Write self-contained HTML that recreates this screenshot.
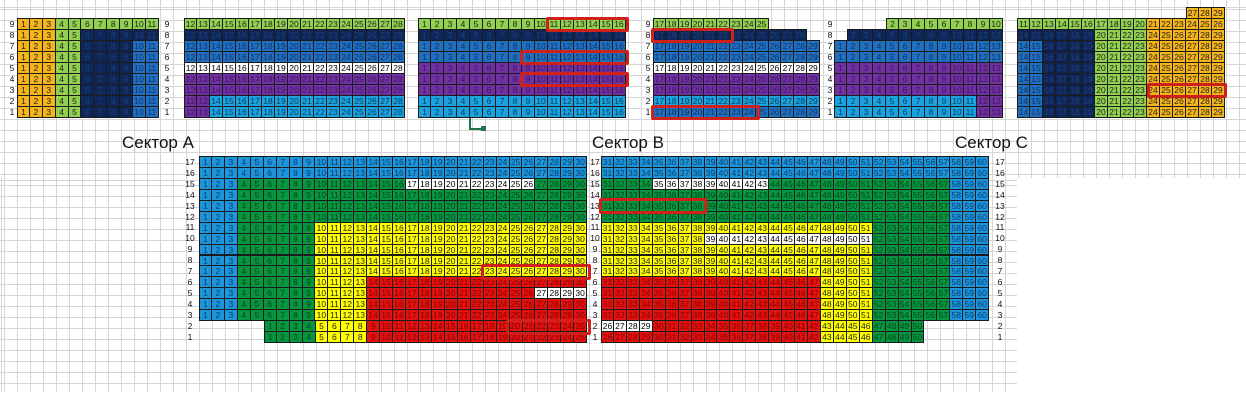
<!DOCTYPE html>
<html><head><meta charset="utf-8"><style>
*{margin:0;padding:0;box-sizing:border-box}
body{width:1246px;height:403px;position:relative;background:#fff;overflow:hidden;font-family:"Liberation Sans",sans-serif}
.grid{position:absolute;background-image:repeating-linear-gradient(90deg,#d6d6d6 0 1px,transparent 1px 13px),repeating-linear-gradient(0deg,#d6d6d6 0 1px,transparent 1px 11px)}
.r{position:absolute;display:flex;height:11px}
.r span{display:flex}
.r i{font-style:normal;width:13px;height:11px;font-size:8.5px;line-height:11px;text-align:center;border-right:1px solid #1a1a1a;border-bottom:1px solid #1a1a1a;border-top:1px solid #1a1a1a;margin-top:-1px;height:12px}
.bt i{width:12.95px;height:11.94px;line-height:11px}
.b1 i{width:12.9px}
.w4 i{width:12.85px}
.r span:first-child i:first-child{border-left:1px solid #1a1a1a}
.o i{background:#f4b41a;color:#222}
.g i{background:#92d050;color:#222}
.n i{background:#0e2758;color:#1d3f7a}
.m i{background:#2170c0;color:#0d3468}
.w i{background:#fff;color:#000}
.p i{background:#7030a0;color:#3f1566}
.l i{background:#1aa3e0;color:#063a5a}
.b i{background:#1c95dc;color:#0a3d6a}
.G i{background:#079640;color:#04451e}
.y i{background:#ffff00;color:#222}
.rd i{background:#e2120f;color:#8a0000}
.e i{background:transparent;border-color:transparent;border-left-color:transparent!important}
.lab{position:absolute;font-size:8.5px;width:14px;text-align:center;line-height:11px;color:#111}
.box{position:absolute;border:3px solid #d0201a;border-radius:2px}
.t{position:absolute;font-size:17px;color:#111}
</style></head><body>
<div class="grid" style="left:0;top:0;width:1246px;height:178px;background-position:4px 8px"></div>
<div class="grid" style="left:0;top:178px;width:1017px;height:214px;background-position:4px 3px"></div>

<!-- TOP BLOCK 1 -->
<div class="lab" style="left:5px;top:19px">9</div><div class="lab" style="left:5px;top:30px">8</div><div class="lab" style="left:5px;top:41px">7</div><div class="lab" style="left:5px;top:52px">6</div><div class="lab" style="left:5px;top:63px">5</div><div class="lab" style="left:5px;top:74px">4</div><div class="lab" style="left:5px;top:85px">3</div><div class="lab" style="left:5px;top:96px">2</div><div class="lab" style="left:5px;top:107px">1</div>
<div class="r b1" style="left:17px;top:19px"><span class="o"><i>1</i><i>2</i><i>3</i></span><span class="g"><i>4</i><i>5</i><i>6</i><i>7</i><i>8</i><i>9</i><i>10</i><i>11</i></span></div>
<div class="r b1" style="left:17px;top:30px"><span class="o"><i>1</i><i>2</i><i>3</i></span><span class="g"><i>4</i><i>5</i></span><span class="n"><i>6</i><i>7</i><i>8</i><i>9</i><i>10</i><i>11</i></span></div>
<div class="r b1" style="left:17px;top:41px"><span class="o"><i>1</i><i>2</i><i>3</i></span><span class="g"><i>4</i><i>5</i></span><span class="n"><i>6</i><i>7</i><i>8</i><i>9</i></span><span class="m"><i>10</i><i>11</i></span></div>
<div class="r b1" style="left:17px;top:52px"><span class="o"><i>1</i><i>2</i><i>3</i></span><span class="g"><i>4</i><i>5</i></span><span class="n"><i>6</i><i>7</i><i>8</i><i>9</i></span><span class="m"><i>10</i><i>11</i></span></div>
<div class="r b1" style="left:17px;top:63px"><span class="o"><i>1</i><i>2</i><i>3</i></span><span class="g"><i>4</i><i>5</i></span><span class="n"><i>6</i><i>7</i><i>8</i><i>9</i></span><span class="m"><i>10</i><i>11</i></span></div>
<div class="r b1" style="left:17px;top:74px"><span class="o"><i>1</i><i>2</i><i>3</i></span><span class="g"><i>4</i><i>5</i></span><span class="n"><i>6</i><i>7</i><i>8</i><i>9</i></span><span class="m"><i>10</i><i>11</i></span></div>
<div class="r b1" style="left:17px;top:85px"><span class="o"><i>1</i><i>2</i><i>3</i></span><span class="g"><i>4</i><i>5</i></span><span class="n"><i>6</i><i>7</i><i>8</i><i>9</i></span><span class="m"><i>10</i><i>11</i></span></div>
<div class="r b1" style="left:17px;top:96px"><span class="o"><i>1</i><i>2</i><i>3</i></span><span class="g"><i>4</i><i>5</i></span><span class="n"><i>6</i><i>7</i><i>8</i><i>9</i></span><span class="m"><i>10</i><i>11</i></span></div>
<div class="r b1" style="left:17px;top:107px"><span class="o"><i>1</i><i>2</i><i>3</i></span><span class="g"><i>4</i><i>5</i></span><span class="n"><i>6</i><i>7</i><i>8</i><i>9</i></span><span class="m"><i>10</i><i>11</i></span></div>

<!-- labels between 1 and 2 -->
<div class="lab" style="left:160px;top:19px">9</div><div class="lab" style="left:160px;top:30px">8</div><div class="lab" style="left:160px;top:41px">7</div><div class="lab" style="left:160px;top:52px">6</div><div class="lab" style="left:160px;top:63px">5</div><div class="lab" style="left:160px;top:74px">4</div><div class="lab" style="left:160px;top:85px">3</div><div class="lab" style="left:160px;top:96px">2</div><div class="lab" style="left:160px;top:107px">1</div>

<!-- TOP BLOCK 2 -->
<div class="r" style="left:184px;top:19px"><span class="g"><i>12</i><i>13</i><i>14</i><i>15</i><i>16</i><i>17</i><i>18</i><i>19</i><i>20</i><i>21</i><i>22</i><i>23</i><i>24</i><i>25</i><i>26</i><i>27</i><i>28</i></span></div>
<div class="r" style="left:184px;top:30px"><span class="n"><i>12</i><i>13</i><i>14</i><i>15</i><i>16</i><i>17</i><i>18</i><i>19</i><i>20</i><i>21</i><i>22</i><i>23</i><i>24</i><i>25</i><i>26</i><i>27</i><i>28</i></span></div>
<div class="r" style="left:184px;top:41px"><span class="m"><i>12</i><i>13</i><i>14</i><i>15</i><i>16</i><i>17</i><i>18</i><i>19</i><i>20</i><i>21</i><i>22</i><i>23</i><i>24</i><i>25</i><i>26</i><i>27</i><i>28</i></span></div>
<div class="r" style="left:184px;top:52px"><span class="m"><i>12</i><i>13</i><i>14</i><i>15</i><i>16</i><i>17</i><i>18</i><i>19</i><i>20</i><i>21</i><i>22</i><i>23</i><i>24</i><i>25</i><i>26</i><i>27</i><i>28</i></span></div>
<div class="r" style="left:184px;top:63px"><span class="w"><i>12</i><i>13</i><i>14</i><i>15</i><i>16</i><i>17</i><i>18</i><i>19</i><i>20</i><i>21</i><i>22</i><i>23</i><i>24</i><i>25</i><i>26</i><i>27</i><i>28</i></span></div>
<div class="r" style="left:184px;top:74px"><span class="p"><i>12</i><i>13</i><i>14</i><i>15</i><i>16</i><i>17</i><i>18</i><i>19</i><i>20</i><i>21</i><i>22</i><i>23</i><i>24</i><i>25</i><i>26</i><i>27</i><i>28</i></span></div>
<div class="r" style="left:184px;top:85px"><span class="p"><i>12</i><i>13</i><i>14</i><i>15</i><i>16</i><i>17</i><i>18</i><i>19</i><i>20</i><i>21</i><i>22</i><i>23</i><i>24</i><i>25</i><i>26</i><i>27</i><i>28</i></span></div>
<div class="r" style="left:184px;top:96px"><span class="p"><i>12</i><i>13</i></span><span class="l"><i>14</i><i>15</i><i>16</i><i>17</i><i>18</i><i>19</i><i>20</i><i>21</i><i>22</i><i>23</i><i>24</i><i>25</i><i>26</i><i>27</i><i>28</i></span></div>
<div class="r" style="left:184px;top:107px"><span class="p"><i>12</i><i>13</i></span><span class="l"><i>14</i><i>15</i><i>16</i><i>17</i><i>18</i><i>19</i><i>20</i><i>21</i><i>22</i><i>23</i><i>24</i><i>25</i><i>26</i><i>27</i><i>28</i></span></div>

<!-- TOP BLOCK 3 -->
<div class="r" style="left:418px;top:19px"><span class="g"><i>1</i><i>2</i><i>3</i><i>4</i><i>5</i><i>6</i><i>7</i><i>8</i><i>9</i><i>10</i><i>11</i><i>12</i><i>13</i><i>14</i><i>15</i><i>16</i></span></div>
<div class="r" style="left:418px;top:30px"><span class="n"><i>1</i><i>2</i><i>3</i><i>4</i><i>5</i><i>6</i><i>7</i><i>8</i><i>9</i><i>10</i><i>11</i><i>12</i><i>13</i><i>14</i><i>15</i><i>16</i></span></div>
<div class="r" style="left:418px;top:41px"><span class="m"><i>1</i><i>2</i><i>3</i><i>4</i><i>5</i><i>6</i><i>7</i><i>8</i><i>9</i><i>10</i><i>11</i><i>12</i><i>13</i><i>14</i><i>15</i><i>16</i></span></div>
<div class="r" style="left:418px;top:52px"><span class="m"><i>1</i><i>2</i><i>3</i><i>4</i><i>5</i><i>6</i><i>7</i><i>8</i><i>9</i><i>10</i><i>11</i><i>12</i><i>13</i><i>14</i><i>15</i><i>16</i></span></div>
<div class="r" style="left:418px;top:63px"><span class="p"><i>1</i><i>2</i><i>3</i><i>4</i><i>5</i><i>6</i><i>7</i><i>8</i><i>9</i><i>10</i><i>11</i><i>12</i><i>13</i><i>14</i><i>15</i><i>16</i></span></div>
<div class="r" style="left:418px;top:74px"><span class="p"><i>1</i><i>2</i><i>3</i><i>4</i><i>5</i><i>6</i><i>7</i><i>8</i><i>9</i><i>10</i><i>11</i><i>12</i><i>13</i><i>14</i><i>15</i><i>16</i></span></div>
<div class="r" style="left:418px;top:85px"><span class="p"><i>1</i><i>2</i><i>3</i><i>4</i><i>5</i><i>6</i><i>7</i><i>8</i><i>9</i><i>10</i><i>11</i><i>12</i><i>13</i><i>14</i><i>15</i><i>16</i></span></div>
<div class="r" style="left:418px;top:96px"><span class="l"><i>1</i><i>2</i><i>3</i><i>4</i><i>5</i><i>6</i><i>7</i><i>8</i><i>9</i><i>10</i><i>11</i><i>12</i><i>13</i><i>14</i><i>15</i><i>16</i></span></div>
<div class="r" style="left:418px;top:107px"><span class="l"><i>1</i><i>2</i><i>3</i><i>4</i><i>5</i><i>6</i><i>7</i><i>8</i><i>9</i><i>10</i><i>11</i><i>12</i><i>13</i><i>14</i><i>15</i><i>16</i></span></div>

<!-- selection marker -->
<div style="position:absolute;left:469px;top:118px;width:15px;height:12px;border-left:2px solid #217346;border-bottom:2px solid #217346"></div>
<div style="position:absolute;left:481px;top:126px;width:5px;height:5px;background:#217346"></div>

<!-- labels block 4 -->
<div class="lab" style="left:641px;top:19px">9</div><div class="lab" style="left:641px;top:30px">8</div><div class="lab" style="left:641px;top:41px">7</div><div class="lab" style="left:641px;top:52px">6</div><div class="lab" style="left:641px;top:63px">5</div><div class="lab" style="left:641px;top:74px">4</div><div class="lab" style="left:641px;top:85px">3</div><div class="lab" style="left:641px;top:96px">2</div><div class="lab" style="left:641px;top:107px">1</div>

<!-- TOP BLOCK 4 -->
<div class="r w4" style="left:653px;top:19px"><span class="g"><i>17</i><i>18</i><i>19</i><i>20</i><i>21</i><i>22</i><i>23</i><i>24</i><i>25</i></span></div>
<div class="r w4" style="left:653px;top:30px"><span class="n"><i>17</i><i>18</i><i>19</i><i>20</i><i>21</i><i>22</i><i>23</i><i>24</i><i>25</i><i>26</i><i>27</i><i>28</i></span></div>
<div class="r w4" style="left:653px;top:41px"><span class="m"><i>17</i><i>18</i><i>19</i><i>20</i><i>21</i><i>22</i><i>23</i><i>24</i><i>25</i><i>26</i><i>27</i><i>28</i><i>29</i></span></div>
<div class="r w4" style="left:653px;top:52px"><span class="m"><i>17</i><i>18</i><i>19</i><i>20</i><i>21</i><i>22</i><i>23</i><i>24</i><i>25</i><i>26</i><i>27</i><i>28</i><i>29</i></span></div>
<div class="r w4" style="left:653px;top:63px"><span class="w"><i>17</i><i>18</i><i>19</i><i>20</i><i>21</i><i>22</i><i>23</i><i>24</i><i>25</i><i>26</i><i>27</i><i>28</i><i>29</i></span></div>
<div class="r w4" style="left:653px;top:74px"><span class="p"><i>17</i><i>18</i><i>19</i><i>20</i><i>21</i><i>22</i><i>23</i><i>24</i><i>25</i><i>26</i><i>27</i><i>28</i><i>29</i></span></div>
<div class="r w4" style="left:653px;top:85px"><span class="p"><i>17</i><i>18</i><i>19</i><i>20</i><i>21</i><i>22</i><i>23</i><i>24</i><i>25</i><i>26</i><i>27</i><i>28</i><i>29</i></span></div>
<div class="r w4" style="left:653px;top:96px"><span class="l"><i>17</i><i>18</i><i>19</i><i>20</i><i>21</i><i>22</i><i>23</i><i>24</i><i>25</i><i>26</i><i>27</i><i>28</i><i>29</i></span></div>
<div class="r w4" style="left:653px;top:107px"><span class="m"><i>17</i><i>18</i><i>19</i><i>20</i><i>21</i><i>22</i><i>23</i><i>24</i><i>25</i><i>26</i><i>27</i><i>28</i><i>29</i></span></div>

<!-- labels block 5 -->
<div class="lab" style="left:823px;top:19px">9</div><div class="lab" style="left:823px;top:30px">8</div><div class="lab" style="left:823px;top:41px">7</div><div class="lab" style="left:823px;top:52px">6</div><div class="lab" style="left:823px;top:63px">5</div><div class="lab" style="left:823px;top:74px">4</div><div class="lab" style="left:823px;top:85px">3</div><div class="lab" style="left:823px;top:96px">2</div><div class="lab" style="left:823px;top:107px">1</div>

<!-- TOP BLOCK 5 -->
<div class="r" style="left:886px;top:19px"><span class="g"><i>2</i><i>3</i><i>4</i><i>5</i><i>6</i><i>7</i><i>8</i><i>9</i><i>10</i></span></div>
<div class="r" style="left:847px;top:30px"><span class="n"><i>2</i><i>3</i><i>4</i><i>5</i><i>6</i><i>7</i><i>8</i><i>9</i><i>10</i><i>11</i><i>12</i><i>13</i></span></div>
<div class="r" style="left:834px;top:41px"><span class="m"><i>1</i><i>2</i><i>3</i><i>4</i><i>5</i><i>6</i><i>7</i><i>8</i><i>9</i><i>10</i><i>11</i><i>12</i><i>13</i></span></div>
<div class="r" style="left:834px;top:52px"><span class="m"><i>1</i><i>2</i><i>3</i><i>4</i><i>5</i><i>6</i><i>7</i><i>8</i><i>9</i><i>10</i><i>11</i><i>12</i><i>13</i></span></div>
<div class="r" style="left:834px;top:63px"><span class="p"><i>1</i><i>2</i><i>3</i><i>4</i><i>5</i><i>6</i><i>7</i><i>8</i><i>9</i><i>10</i><i>11</i><i>12</i><i>13</i></span></div>
<div class="r" style="left:834px;top:74px"><span class="p"><i>1</i><i>2</i><i>3</i><i>4</i><i>5</i><i>6</i><i>7</i><i>8</i><i>9</i><i>10</i><i>11</i><i>12</i><i>13</i></span></div>
<div class="r" style="left:834px;top:85px"><span class="p"><i>1</i><i>2</i><i>3</i><i>4</i><i>5</i><i>6</i><i>7</i><i>8</i><i>9</i><i>10</i><i>11</i><i>12</i><i>13</i></span></div>
<div class="r" style="left:834px;top:96px"><span class="l"><i>1</i><i>2</i><i>3</i><i>4</i><i>5</i><i>6</i><i>7</i><i>8</i><i>9</i><i>10</i><i>11</i></span><span class="p"><i>12</i><i>13</i></span></div>
<div class="r" style="left:834px;top:107px"><span class="l"><i>1</i><i>2</i><i>3</i><i>4</i><i>5</i><i>6</i><i>7</i><i>8</i><i>9</i><i>10</i><i>11</i></span><span class="p"><i>12</i><i>13</i></span></div>

<!-- TOP BLOCK 6 -->
<div class="r" style="left:1186px;top:8px"><span class="o"><i>27</i><i>28</i><i>29</i></span></div>
<div class="r" style="left:1017px;top:19px"><span class="g"><i>11</i><i>12</i><i>13</i><i>14</i><i>15</i><i>16</i><i>17</i><i>18</i><i>19</i><i>20</i></span><span class="o"><i>21</i><i>22</i><i>23</i><i>24</i><i>25</i><i>26</i></span></div>
<div class="r" style="left:1017px;top:30px"><span class="n"><i>14</i><i>15</i><i>16</i><i>17</i><i>18</i><i>19</i></span><span class="g"><i>20</i><i>21</i><i>22</i><i>23</i></span><span class="o"><i>24</i><i>25</i><i>26</i><i>27</i><i>28</i><i>29</i></span></div>
<div class="r" style="left:1017px;top:41px"><span class="m"><i>14</i><i>15</i></span><span class="n"><i>16</i><i>17</i><i>18</i><i>19</i></span><span class="g"><i>20</i><i>21</i><i>22</i><i>23</i></span><span class="o"><i>24</i><i>25</i><i>26</i><i>27</i><i>28</i><i>29</i></span></div>
<div class="r" style="left:1017px;top:52px"><span class="m"><i>14</i><i>15</i></span><span class="n"><i>16</i><i>17</i><i>18</i><i>19</i></span><span class="g"><i>20</i><i>21</i><i>22</i><i>23</i></span><span class="o"><i>24</i><i>25</i><i>26</i><i>27</i><i>28</i><i>29</i></span></div>
<div class="r" style="left:1017px;top:63px"><span class="m"><i>14</i><i>15</i></span><span class="n"><i>16</i><i>17</i><i>18</i><i>19</i></span><span class="g"><i>20</i><i>21</i><i>22</i><i>23</i></span><span class="o"><i>24</i><i>25</i><i>26</i><i>27</i><i>28</i><i>29</i></span></div>
<div class="r" style="left:1017px;top:74px"><span class="m"><i>14</i><i>15</i></span><span class="n"><i>16</i><i>17</i><i>18</i><i>19</i></span><span class="g"><i>20</i><i>21</i><i>22</i><i>23</i></span><span class="o"><i>24</i><i>25</i><i>26</i><i>27</i><i>28</i><i>29</i></span></div>
<div class="r" style="left:1017px;top:85px"><span class="m"><i>14</i><i>15</i></span><span class="n"><i>16</i><i>17</i><i>18</i><i>19</i></span><span class="g"><i>20</i><i>21</i><i>22</i><i>23</i></span><span class="o"><i>24</i><i>25</i><i>26</i><i>27</i><i>28</i><i>29</i></span></div>
<div class="r" style="left:1017px;top:96px"><span class="m"><i>14</i><i>15</i></span><span class="n"><i>16</i><i>17</i><i>18</i><i>19</i></span><span class="g"><i>20</i><i>21</i><i>22</i><i>23</i></span><span class="o"><i>24</i><i>25</i><i>26</i><i>27</i><i>28</i><i>29</i></span></div>
<div class="r" style="left:1017px;top:107px"><span class="m"><i>14</i><i>15</i></span><span class="n"><i>16</i><i>17</i><i>18</i><i>19</i></span><span class="g"><i>20</i><i>21</i><i>22</i><i>23</i></span><span class="o"><i>24</i><i>25</i><i>26</i><i>27</i><i>28</i><i>29</i></span></div>

<!-- titles -->
<div class="t" style="left:122px;top:133px">Сектор А</div>
<div class="t" style="left:592px;top:133px">Сектор В</div>
<div class="t" style="left:955px;top:133px">Сектор С</div>

<!-- BOTTOM labels -->
<div class="lab" style="left:183px;top:157px">17</div><div class="lab" style="left:183px;top:168px">16</div><div class="lab" style="left:183px;top:179px">15</div><div class="lab" style="left:183px;top:190px">14</div><div class="lab" style="left:183px;top:201px">13</div><div class="lab" style="left:183px;top:212px">12</div><div class="lab" style="left:183px;top:222px">11</div><div class="lab" style="left:183px;top:233px">10</div><div class="lab" style="left:183px;top:244px">9</div><div class="lab" style="left:183px;top:255px">8</div><div class="lab" style="left:183px;top:266px">7</div><div class="lab" style="left:183px;top:277px">6</div><div class="lab" style="left:183px;top:288px">5</div><div class="lab" style="left:183px;top:299px">4</div><div class="lab" style="left:183px;top:310px">3</div><div class="lab" style="left:183px;top:321px">2</div><div class="lab" style="left:183px;top:332px">1</div>
<div class="lab" style="left:588px;top:157px">17</div><div class="lab" style="left:588px;top:168px">16</div><div class="lab" style="left:588px;top:179px">15</div><div class="lab" style="left:588px;top:190px">14</div><div class="lab" style="left:588px;top:201px">13</div><div class="lab" style="left:588px;top:212px">12</div><div class="lab" style="left:588px;top:222px">11</div><div class="lab" style="left:588px;top:233px">10</div><div class="lab" style="left:588px;top:244px">9</div><div class="lab" style="left:588px;top:255px">8</div><div class="lab" style="left:588px;top:266px">7</div><div class="lab" style="left:588px;top:277px">6</div><div class="lab" style="left:588px;top:288px">5</div><div class="lab" style="left:588px;top:299px">4</div><div class="lab" style="left:588px;top:310px">3</div><div class="lab" style="left:588px;top:321px">2</div><div class="lab" style="left:588px;top:332px">1</div>
<div class="lab" style="left:993px;top:157px">17</div><div class="lab" style="left:993px;top:168px">16</div><div class="lab" style="left:993px;top:179px">15</div><div class="lab" style="left:993px;top:190px">14</div><div class="lab" style="left:993px;top:201px">13</div><div class="lab" style="left:993px;top:212px">12</div><div class="lab" style="left:993px;top:222px">11</div><div class="lab" style="left:993px;top:233px">10</div><div class="lab" style="left:993px;top:244px">9</div><div class="lab" style="left:993px;top:255px">8</div><div class="lab" style="left:993px;top:266px">7</div><div class="lab" style="left:993px;top:277px">6</div><div class="lab" style="left:993px;top:288px">5</div><div class="lab" style="left:993px;top:299px">4</div><div class="lab" style="left:993px;top:310px">3</div><div class="lab" style="left:993px;top:321px">2</div><div class="lab" style="left:993px;top:332px">1</div>

<!-- SECTION A -->
<div class="r bt" style="left:199px;top:157px"><span class="b"><i>1</i><i>2</i><i>3</i><i>4</i><i>5</i><i>6</i><i>7</i><i>8</i><i>9</i><i>10</i><i>11</i><i>12</i><i>13</i><i>14</i><i>15</i><i>16</i><i>17</i><i>18</i><i>19</i><i>20</i><i>21</i><i>22</i><i>23</i><i>24</i><i>25</i><i>26</i><i>27</i><i>28</i><i>29</i><i>30</i></span></div>
<div class="r bt" style="left:199px;top:167.9px"><span class="b"><i>1</i><i>2</i><i>3</i><i>4</i><i>5</i><i>6</i><i>7</i><i>8</i><i>9</i><i>10</i><i>11</i><i>12</i><i>13</i><i>14</i><i>15</i><i>16</i><i>17</i><i>18</i><i>19</i><i>20</i><i>21</i><i>22</i><i>23</i><i>24</i><i>25</i><i>26</i><i>27</i><i>28</i><i>29</i><i>30</i></span></div>
<div class="r bt" style="left:199px;top:178.9px"><span class="b"><i>1</i><i>2</i><i>3</i></span><span class="G"><i>4</i><i>5</i><i>6</i><i>7</i><i>8</i><i>9</i><i>10</i><i>11</i><i>12</i><i>13</i><i>14</i><i>15</i><i>16</i></span><span class="w"><i>17</i><i>18</i><i>19</i><i>20</i><i>21</i><i>22</i><i>23</i><i>24</i><i>25</i><i>26</i></span><span class="G"><i>27</i><i>28</i><i>29</i><i>30</i></span></div>
<div class="r bt" style="left:199px;top:189.8px"><span class="b"><i>1</i><i>2</i><i>3</i></span><span class="G"><i>4</i><i>5</i><i>6</i><i>7</i><i>8</i><i>9</i><i>10</i><i>11</i><i>12</i><i>13</i><i>14</i><i>15</i><i>16</i><i>17</i><i>18</i><i>19</i><i>20</i><i>21</i><i>22</i><i>23</i><i>24</i><i>25</i><i>26</i><i>27</i><i>28</i><i>29</i><i>30</i></span></div>
<div class="r bt" style="left:199px;top:200.8px"><span class="b"><i>1</i><i>2</i><i>3</i></span><span class="G"><i>4</i><i>5</i><i>6</i><i>7</i><i>8</i><i>9</i><i>10</i><i>11</i><i>12</i><i>13</i><i>14</i><i>15</i><i>16</i><i>17</i><i>18</i><i>19</i><i>20</i><i>21</i><i>22</i><i>23</i><i>24</i><i>25</i><i>26</i><i>27</i><i>28</i><i>29</i><i>30</i></span></div>
<div class="r bt" style="left:199px;top:211.7px"><span class="b"><i>1</i><i>2</i><i>3</i></span><span class="G"><i>4</i><i>5</i><i>6</i><i>7</i><i>8</i><i>9</i><i>10</i><i>11</i><i>12</i><i>13</i><i>14</i><i>15</i><i>16</i><i>17</i><i>18</i><i>19</i><i>20</i><i>21</i><i>22</i><i>23</i><i>24</i><i>25</i><i>26</i><i>27</i><i>28</i><i>29</i><i>30</i></span></div>
<div class="r bt" style="left:199px;top:222.6px"><span class="b"><i>1</i><i>2</i><i>3</i></span><span class="G"><i>4</i><i>5</i><i>6</i><i>7</i><i>8</i><i>9</i></span><span class="y"><i>10</i><i>11</i><i>12</i><i>13</i><i>14</i><i>15</i><i>16</i><i>17</i><i>18</i><i>19</i><i>20</i><i>21</i><i>22</i><i>23</i><i>24</i><i>25</i><i>26</i><i>27</i><i>28</i><i>29</i><i>30</i></span></div>
<div class="r bt" style="left:199px;top:233.6px"><span class="b"><i>1</i><i>2</i><i>3</i></span><span class="G"><i>4</i><i>5</i><i>6</i><i>7</i><i>8</i><i>9</i></span><span class="y"><i>10</i><i>11</i><i>12</i><i>13</i><i>14</i><i>15</i><i>16</i><i>17</i><i>18</i><i>19</i><i>20</i><i>21</i><i>22</i><i>23</i><i>24</i><i>25</i><i>26</i><i>27</i><i>28</i><i>29</i><i>30</i></span></div>
<div class="r bt" style="left:199px;top:244.5px"><span class="b"><i>1</i><i>2</i><i>3</i></span><span class="G"><i>4</i><i>5</i><i>6</i><i>7</i><i>8</i><i>9</i></span><span class="y"><i>10</i><i>11</i><i>12</i><i>13</i><i>14</i><i>15</i><i>16</i><i>17</i><i>18</i><i>19</i><i>20</i><i>21</i><i>22</i><i>23</i><i>24</i><i>25</i><i>26</i><i>27</i><i>28</i><i>29</i><i>30</i></span></div>
<div class="r bt" style="left:199px;top:255.5px"><span class="b"><i>1</i><i>2</i><i>3</i></span><span class="G"><i>4</i><i>5</i><i>6</i><i>7</i><i>8</i><i>9</i></span><span class="y"><i>10</i><i>11</i><i>12</i><i>13</i><i>14</i><i>15</i><i>16</i><i>17</i><i>18</i><i>19</i><i>20</i><i>21</i><i>22</i><i>23</i><i>24</i><i>25</i><i>26</i><i>27</i><i>28</i><i>29</i><i>30</i></span></div>
<div class="r bt" style="left:199px;top:266.4px"><span class="b"><i>1</i><i>2</i><i>3</i></span><span class="G"><i>4</i><i>5</i><i>6</i><i>7</i><i>8</i><i>9</i></span><span class="y"><i>10</i><i>11</i><i>12</i><i>13</i><i>14</i><i>15</i><i>16</i><i>17</i><i>18</i><i>19</i><i>20</i><i>21</i><i>22</i><i>23</i><i>24</i><i>25</i><i>26</i><i>27</i><i>28</i><i>29</i><i>30</i></span></div>
<div class="r bt" style="left:199px;top:277.3px"><span class="b"><i>1</i><i>2</i><i>3</i></span><span class="G"><i>4</i><i>5</i><i>6</i><i>7</i><i>8</i><i>9</i></span><span class="y"><i>10</i><i>11</i><i>12</i><i>13</i></span><span class="rd"><i>14</i><i>15</i><i>16</i><i>17</i><i>18</i><i>19</i><i>20</i><i>21</i><i>22</i><i>23</i><i>24</i><i>25</i><i>26</i><i>27</i><i>28</i><i>29</i><i>30</i></span></div>
<div class="r bt" style="left:199px;top:288.3px"><span class="b"><i>1</i><i>2</i><i>3</i></span><span class="G"><i>4</i><i>5</i><i>6</i><i>7</i><i>8</i><i>9</i></span><span class="y"><i>10</i><i>11</i><i>12</i><i>13</i></span><span class="rd"><i>14</i><i>15</i><i>16</i><i>17</i><i>18</i><i>19</i><i>20</i><i>21</i><i>22</i><i>23</i><i>24</i><i>25</i><i>26</i></span><span class="w"><i>27</i><i>28</i><i>29</i><i>30</i></span></div>
<div class="r bt" style="left:199px;top:299.2px"><span class="b"><i>1</i><i>2</i><i>3</i></span><span class="G"><i>4</i><i>5</i><i>6</i><i>7</i><i>8</i><i>9</i></span><span class="y"><i>10</i><i>11</i><i>12</i><i>13</i></span><span class="rd"><i>14</i><i>15</i><i>16</i><i>17</i><i>18</i><i>19</i><i>20</i><i>21</i><i>22</i><i>23</i><i>24</i><i>25</i><i>26</i><i>27</i><i>28</i><i>29</i><i>30</i></span></div>
<div class="r bt" style="left:199px;top:310.2px"><span class="b"><i>1</i><i>2</i><i>3</i></span><span class="G"><i>4</i><i>5</i><i>6</i><i>7</i><i>8</i><i>9</i></span><span class="y"><i>10</i><i>11</i><i>12</i><i>13</i></span><span class="rd"><i>14</i><i>15</i><i>16</i><i>17</i><i>18</i><i>19</i><i>20</i><i>21</i><i>22</i><i>23</i><i>24</i><i>25</i><i>26</i><i>27</i><i>28</i><i>29</i><i>30</i></span></div>
<div class="r bt" style="left:263.75px;top:321.1px"><span class="G"><i>1</i><i>2</i><i>3</i><i>4</i></span><span class="y"><i>5</i><i>6</i><i>7</i><i>8</i></span><span class="rd"><i>9</i><i>10</i><i>11</i><i>12</i><i>13</i><i>14</i><i>15</i><i>16</i><i>17</i><i>18</i><i>19</i><i>20</i><i>21</i><i>22</i><i>23</i><i>24</i><i>25</i></span></div>
<div class="r bt" style="left:263.75px;top:332px"><span class="G"><i>1</i><i>2</i><i>3</i><i>4</i></span><span class="y"><i>5</i><i>6</i><i>7</i><i>8</i></span><span class="rd"><i>9</i><i>10</i><i>11</i><i>12</i><i>13</i><i>14</i><i>15</i><i>16</i><i>17</i><i>18</i><i>19</i><i>20</i><i>21</i><i>22</i><i>23</i><i>24</i><i>25</i></span></div>

<!-- SECTION B -->
<div class="r bt" style="left:601px;top:157px"><span class="b"><i>31</i><i>32</i><i>33</i><i>34</i><i>35</i><i>36</i><i>37</i><i>38</i><i>39</i><i>40</i><i>41</i><i>42</i><i>43</i><i>44</i><i>45</i><i>46</i><i>47</i><i>48</i><i>49</i><i>50</i><i>51</i><i>52</i><i>53</i><i>54</i><i>55</i><i>56</i><i>57</i><i>58</i><i>59</i><i>60</i></span></div>
<div class="r bt" style="left:601px;top:167.9px"><span class="b"><i>31</i><i>32</i><i>33</i><i>34</i><i>35</i><i>36</i><i>37</i><i>38</i><i>39</i><i>40</i><i>41</i><i>42</i><i>43</i><i>44</i><i>45</i><i>46</i><i>47</i><i>48</i><i>49</i><i>50</i><i>51</i><i>52</i><i>53</i><i>54</i><i>55</i><i>56</i><i>57</i><i>58</i><i>59</i><i>60</i></span></div>
<div class="r bt" style="left:601px;top:178.9px"><span class="G"><i>31</i><i>32</i><i>33</i><i>34</i></span><span class="w"><i>35</i><i>36</i><i>37</i><i>38</i><i>39</i><i>40</i><i>41</i><i>42</i><i>43</i></span><span class="G"><i>44</i><i>45</i><i>46</i><i>47</i><i>48</i><i>49</i><i>50</i><i>51</i><i>52</i><i>53</i><i>54</i><i>55</i><i>56</i><i>57</i></span><span class="b"><i>58</i><i>59</i><i>60</i></span></div>
<div class="r bt" style="left:601px;top:189.8px"><span class="G"><i>31</i><i>32</i><i>33</i><i>34</i><i>35</i><i>36</i><i>37</i><i>38</i><i>39</i><i>40</i><i>41</i><i>42</i><i>43</i><i>44</i><i>45</i><i>46</i><i>47</i><i>48</i><i>49</i><i>50</i><i>51</i><i>52</i><i>53</i><i>54</i><i>55</i><i>56</i><i>57</i></span><span class="b"><i>58</i><i>59</i><i>60</i></span></div>
<div class="r bt" style="left:601px;top:200.8px"><span class="G"><i>31</i><i>32</i><i>33</i><i>34</i><i>35</i><i>36</i><i>37</i><i>38</i><i>39</i><i>40</i><i>41</i><i>42</i><i>43</i><i>44</i><i>45</i><i>46</i><i>47</i><i>48</i><i>49</i><i>50</i><i>51</i><i>52</i><i>53</i><i>54</i><i>55</i><i>56</i><i>57</i></span><span class="b"><i>58</i><i>59</i><i>60</i></span></div>
<div class="r bt" style="left:601px;top:211.7px"><span class="G"><i>31</i><i>32</i><i>33</i><i>34</i><i>35</i><i>36</i><i>37</i><i>38</i><i>39</i><i>40</i><i>41</i><i>42</i><i>43</i><i>44</i><i>45</i><i>46</i><i>47</i><i>48</i><i>49</i><i>50</i><i>51</i><i>52</i><i>53</i><i>54</i><i>55</i><i>56</i><i>57</i></span><span class="b"><i>58</i><i>59</i><i>60</i></span></div>
<div class="r bt" style="left:601px;top:222.6px"><span class="y"><i>31</i><i>32</i><i>33</i><i>34</i><i>35</i><i>36</i><i>37</i><i>38</i><i>39</i><i>40</i><i>41</i><i>42</i><i>43</i><i>44</i><i>45</i><i>46</i><i>47</i><i>48</i><i>49</i><i>50</i><i>51</i></span><span class="G"><i>52</i><i>53</i><i>54</i><i>55</i><i>56</i><i>57</i></span><span class="b"><i>58</i><i>59</i><i>60</i></span></div>
<div class="r bt" style="left:601px;top:233.6px"><span class="y"><i>31</i><i>32</i><i>33</i><i>34</i><i>35</i><i>36</i><i>37</i><i>38</i></span><span class="w"><i>39</i><i>40</i><i>41</i><i>42</i><i>43</i><i>44</i><i>45</i><i>46</i><i>47</i><i>48</i><i>49</i><i>50</i><i>51</i></span><span class="G"><i>52</i><i>53</i><i>54</i><i>55</i><i>56</i><i>57</i></span><span class="b"><i>58</i><i>59</i><i>60</i></span></div>
<div class="r bt" style="left:601px;top:244.5px"><span class="y"><i>31</i><i>32</i><i>33</i><i>34</i><i>35</i><i>36</i><i>37</i><i>38</i><i>39</i><i>40</i><i>41</i><i>42</i><i>43</i><i>44</i><i>45</i><i>46</i><i>47</i><i>48</i><i>49</i><i>50</i><i>51</i></span><span class="G"><i>52</i><i>53</i><i>54</i><i>55</i><i>56</i><i>57</i></span><span class="b"><i>58</i><i>59</i><i>60</i></span></div>
<div class="r bt" style="left:601px;top:255.5px"><span class="y"><i>31</i><i>32</i><i>33</i><i>34</i><i>35</i><i>36</i><i>37</i><i>38</i><i>39</i><i>40</i><i>41</i><i>42</i><i>43</i><i>44</i><i>45</i><i>46</i><i>47</i><i>48</i><i>49</i><i>50</i><i>51</i></span><span class="G"><i>52</i><i>53</i><i>54</i><i>55</i><i>56</i><i>57</i></span><span class="b"><i>58</i><i>59</i><i>60</i></span></div>
<div class="r bt" style="left:601px;top:266.4px"><span class="y"><i>31</i><i>32</i><i>33</i><i>34</i><i>35</i><i>36</i><i>37</i><i>38</i><i>39</i><i>40</i><i>41</i><i>42</i><i>43</i><i>44</i><i>45</i><i>46</i><i>47</i><i>48</i><i>49</i><i>50</i><i>51</i></span><span class="G"><i>52</i><i>53</i><i>54</i><i>55</i><i>56</i><i>57</i></span><span class="b"><i>58</i><i>59</i><i>60</i></span></div>
<div class="r bt" style="left:601px;top:277.3px"><span class="rd"><i>31</i><i>32</i><i>33</i><i>34</i><i>35</i><i>36</i><i>37</i><i>38</i><i>39</i><i>40</i><i>41</i><i>42</i><i>43</i><i>44</i><i>45</i><i>46</i><i>47</i></span><span class="y"><i>48</i><i>49</i><i>50</i><i>51</i></span><span class="G"><i>52</i><i>53</i><i>54</i><i>55</i><i>56</i><i>57</i></span><span class="b"><i>58</i><i>59</i><i>60</i></span></div>
<div class="r bt" style="left:601px;top:288.3px"><span class="rd"><i>31</i><i>32</i><i>33</i><i>34</i><i>35</i><i>36</i><i>37</i><i>38</i><i>39</i><i>40</i><i>41</i><i>42</i><i>43</i><i>44</i><i>45</i><i>46</i><i>47</i></span><span class="y"><i>48</i><i>49</i><i>50</i><i>51</i></span><span class="G"><i>52</i><i>53</i><i>54</i><i>55</i><i>56</i><i>57</i></span><span class="b"><i>58</i><i>59</i><i>60</i></span></div>
<div class="r bt" style="left:601px;top:299.2px"><span class="rd"><i>31</i><i>32</i><i>33</i><i>34</i><i>35</i><i>36</i><i>37</i><i>38</i><i>39</i><i>40</i><i>41</i><i>42</i><i>43</i><i>44</i><i>45</i><i>46</i><i>47</i></span><span class="y"><i>48</i><i>49</i><i>50</i><i>51</i></span><span class="G"><i>52</i><i>53</i><i>54</i><i>55</i><i>56</i><i>57</i></span><span class="b"><i>58</i><i>59</i><i>60</i></span></div>
<div class="r bt" style="left:601px;top:310.2px"><span class="rd"><i>31</i><i>32</i><i>33</i><i>34</i><i>35</i><i>36</i><i>37</i><i>38</i><i>39</i><i>40</i><i>41</i><i>42</i><i>43</i><i>44</i><i>45</i><i>46</i><i>47</i></span><span class="y"><i>48</i><i>49</i><i>50</i><i>51</i></span><span class="G"><i>52</i><i>53</i><i>54</i><i>55</i><i>56</i><i>57</i></span><span class="b"><i>58</i><i>59</i><i>60</i></span></div>
<div class="r bt" style="left:601px;top:321.1px"><span class="w"><i>26</i><i>27</i><i>28</i><i>29</i></span><span class="rd"><i>30</i><i>31</i><i>32</i><i>33</i><i>34</i><i>35</i><i>36</i><i>37</i><i>38</i><i>39</i><i>40</i><i>41</i><i>42</i></span><span class="y"><i>43</i><i>44</i><i>45</i><i>46</i></span><span class="G"><i>47</i><i>48</i><i>49</i><i>50</i></span></div>
<div class="r bt" style="left:601px;top:332px"><span class="rd"><i>26</i><i>27</i><i>28</i><i>29</i><i>30</i><i>31</i><i>32</i><i>33</i><i>34</i><i>35</i><i>36</i><i>37</i><i>38</i><i>39</i><i>40</i><i>41</i><i>42</i></span><span class="y"><i>43</i><i>44</i><i>45</i><i>46</i></span><span class="G"><i>47</i><i>48</i><i>49</i><i>50</i></span></div>

<!-- red boxes -->
<div class="box" style="left:546px;top:17px;width:83px;height:15px"></div>
<div class="box" style="left:520px;top:50px;width:109px;height:15px"></div>
<div class="box" style="left:520px;top:72px;width:109px;height:15px"></div>
<div class="box" style="left:651px;top:28px;width:83px;height:15px"></div>
<div class="box" style="left:651px;top:105px;width:109px;height:15px"></div>
<div class="box" style="left:1147px;top:83px;width:80px;height:15px"></div>
<div class="box" style="left:481px;top:264px;width:110px;height:16px"></div>
<div class="box" style="left:506px;top:319px;width:85px;height:16px"></div>
<div class="box" style="left:599px;top:198px;width:108px;height:16px"></div>
</body></html>
